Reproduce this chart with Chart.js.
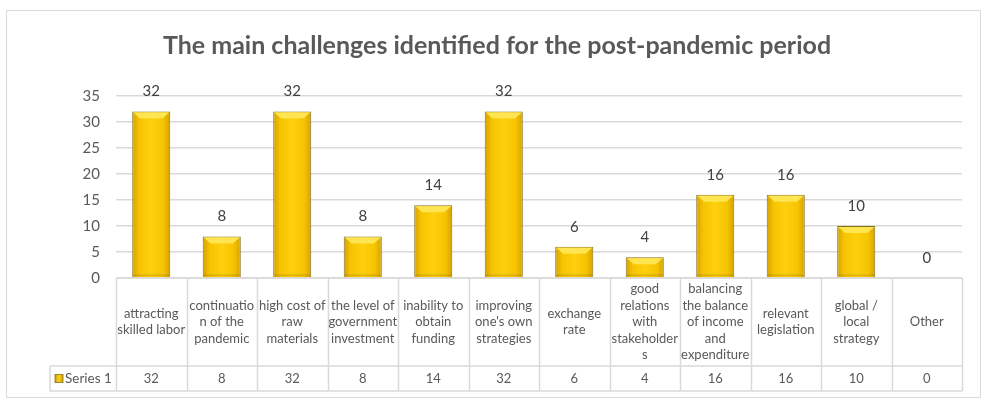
<!DOCTYPE html>
<html>
<head>
<meta charset="utf-8">
<script src="https://cdn.jsdelivr.net/npm/chart.js@4.4.0/dist/chart.umd.min.js"></script>
<style>
  html, body { margin: 0; padding: 0; background: #fff; }
</style>
</head>
<body>
<canvas id="chart" width="981" height="400"></canvas>
<script>
// Data
const titleText = 'The main challenges identified for the post-pandemic period';
const categories = [
  ['attracting', 'skilled labor'],
  ['continuatio', 'n of the', 'pandemic'],
  ['high cost of', 'raw', 'materials'],
  ['the level of', 'government', 'investment'],
  ['inability to', 'obtain', 'funding'],
  ['improving', "one's own", 'strategies'],
  ['exchange', 'rate'],
  ['good', 'relations', 'with', 'stakeholder', 's'],
  ['balancing', 'the balance', 'of income', 'and', 'expenditure'],
  ['relevant', 'legislation'],
  ['global /', 'local', 'strategy'],
  ['Other']
];
const seriesName = 'Series 1';
const seriesValues = [32, 8, 32, 8, 14, 32, 6, 4, 16, 16, 10, 0];
const yTicks = [0, 5, 10, 15, 20, 25, 30, 35];

const FONT = 'Lato, "Open Sans", sans-serif';
const GRID = '#d9d9d9';
const BAR_PCT = 0.54;

// bar fill: darker edges, bright centre
function barFill(ctx) {
  const chart = ctx.chart;
  const xs = chart.scales && chart.scales.x;
  if (!xs || ctx.dataIndex === undefined) return '#F7C600';
  const cx = xs.getPixelForValue(ctx.dataIndex);
  const w = (xs.right - xs.left) / categories.length * BAR_PCT;
  if (!Number.isFinite(cx) || !Number.isFinite(w) || w <= 0) return '#F7C600';
  const g = chart.ctx.createLinearGradient(cx - w / 2, 0, cx + w / 2, 0);
  g.addColorStop(0, '#D4A200');
  g.addColorStop(0.18, '#F5C300');
  g.addColorStop(0.5, '#FFD010');
  g.addColorStop(0.82, '#F5C300');
  g.addColorStop(1, '#D4A200');
  return g;
}

// frame + title
const framePlugin = {
  id: 'frame',
  beforeDraw(chart) {
    const c = chart.ctx;
    c.save();
    c.fillStyle = '#fff';
    c.fillRect(0, 0, chart.width, chart.height);
    c.strokeStyle = GRID;
    c.lineWidth = 1;
    c.strokeRect(6.5, 10.5, chart.width - 7, chart.height - 13);
    c.fillStyle = '#595959';
    c.font = 'bold 25px ' + FONT;
    c.textAlign = 'center';
    c.textBaseline = 'middle';
    c.fillText(titleText, 497, 46);
    c.restore();
  }
};

// bevel top + value labels
const barDecor = {
  id: 'barDecor',
  afterDatasetsDraw(chart) {
    const c = chart.ctx;
    const meta = chart.getDatasetMeta(0);
    c.save();
    meta.data.forEach((bar, i) => {
      const p = bar.getProps(['x', 'y', 'base', 'width'], true);
      const h = p.base - p.y;
      const l = p.x - p.width / 2 + 1, r = p.x + p.width / 2 - 1;
      if (h > 2) {
        const d = Math.min(7, h / 2);
        c.fillStyle = '#FFE54F';
        c.beginPath();
        c.moveTo(l, p.y + 1);
        c.lineTo(r, p.y + 1);
        c.lineTo(r - d, p.y + d);
        c.lineTo(l + d, p.y + d);
        c.closePath();
        c.fill();
        c.fillStyle = 'rgba(150,110,0,0.25)';
        c.fillRect(l, p.base - 3, r - l, 2);
      }
      c.fillStyle = '#404040';
      c.font = '15px ' + FONT;
      c.textAlign = 'center';
      c.textBaseline = 'middle';
      c.fillText(String(seriesValues[i]), p.x, p.y - 20);
    });
    c.restore();
  }
};

// data table under the plot
const tablePlugin = {
  id: 'dataTable',
  afterDraw(chart) {
    const c = chart.ctx;
    const xs = chart.scales.x;
    const top = chart.chartArea.bottom;
    const mid = top + 88;
    const bottom = top + 113;
    const keyLeft = 50;
    const n = categories.length;
    const step = (xs.right - xs.left) / n;
    c.save();
    c.strokeStyle = GRID;
    c.lineWidth = 1.5;
    c.beginPath();
    c.moveTo(xs.left, top); c.lineTo(xs.right, top);
    c.moveTo(keyLeft, mid); c.lineTo(xs.right, mid);
    c.moveTo(keyLeft, bottom); c.lineTo(xs.right, bottom);
    c.moveTo(keyLeft, mid); c.lineTo(keyLeft, bottom);
    for (let i = 0; i <= n; i++) {
      const bx = Math.round(xs.left + i * step) + 0.5;
      c.moveTo(bx, top); c.lineTo(bx, bottom);
    }
    c.stroke();

    c.fillStyle = '#595959';
    c.textAlign = 'center';
    c.textBaseline = 'middle';
    c.font = '13px ' + FONT;
    const lh = 16.5;
    categories.forEach((lines, i) => {
      const cx = xs.getPixelForValue(i);
      const y0 = (top + mid) / 2 - (lines.length - 1) * lh / 2;
      lines.forEach((t, k) => c.fillText(t, cx, y0 + k * lh));
      c.fillText(String(seriesValues[i]), cx, (mid + bottom) / 2);
    });

    // legend key
    const ky = (mid + bottom) / 2;
    const g = c.createLinearGradient(55, 0, 63, 0);
    g.addColorStop(0, '#C9A000');
    g.addColorStop(0.5, '#FFD21A');
    g.addColorStop(1, '#C9A000');
    c.fillStyle = g;
    c.fillRect(55, ky - 4, 8, 8);
    c.strokeStyle = '#8B7320';
    c.lineWidth = 0.8;
    c.strokeRect(55, ky - 4, 8, 8);
    c.fillStyle = '#595959';
    c.textAlign = 'left';
    c.font = '13.5px ' + FONT;
    c.fillText(seriesName, 65, ky);
    c.restore();
  }
};

const chart = new Chart(document.getElementById('chart'), {
  type: 'bar',
  data: {
    labels: categories,
    datasets: [{
      label: seriesName,
      data: seriesValues,
      backgroundColor: barFill,
      borderColor: '#85701E',
      borderWidth: 1,
      categoryPercentage: 1,
      barPercentage: BAR_PCT
    }]
  },
  options: {
    responsive: false,
    animation: false,
    layout: { padding: { top: 96, right: 19, bottom: 122, left: 0 } },
    plugins: {
      legend: { display: false },
      tooltip: { enabled: false },
      title: { display: false }
    },
    scales: {
      x: { display: false, offset: true },
      y: {
        min: yTicks[0],
        max: yTicks[yTicks.length - 1],
        ticks: { stepSize: yTicks[1] - yTicks[0], color: '#595959', font: { family: FONT, size: 15 }, padding: 16 },
        grid: { color: GRID, lineWidth: 1.5, drawTicks: false },
        border: { display: false },
        afterFit(scale) { scale.width = 116; }
      }
    }
  },
  plugins: [framePlugin, barDecor, tablePlugin]
});
</script>
</body>
</html>
